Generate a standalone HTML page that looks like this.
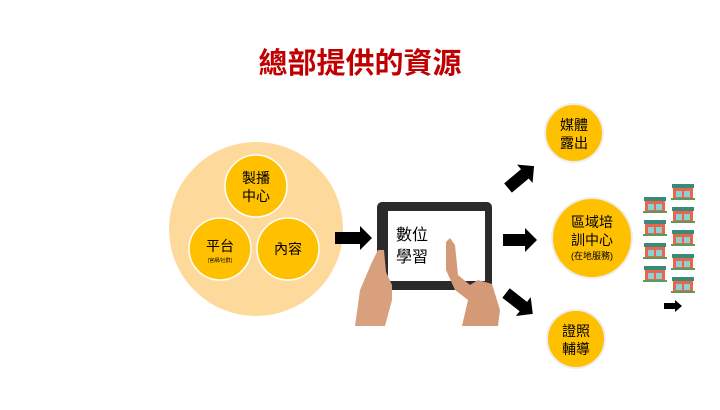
<!DOCTYPE html>
<html><head><meta charset="utf-8"><style>
body{margin:0;width:720px;height:405px;background:#fff;overflow:hidden;font-family:"Liberation Sans","Noto Sans CJK TC",sans-serif;}
</style></head><body>
<svg width="720" height="405" xmlns="http://www.w3.org/2000/svg" font-family="'Liberation Sans','Noto Sans CJK TC',sans-serif">
<text x="360" y="73" text-anchor="middle" font-size="29" font-weight="bold" fill="#C00000">總部提供的資源</text>
<circle cx="256" cy="229" r="87" fill="#FDDA9B"/>
<g fill="#FFC000" stroke="#fff" stroke-width="1.5">
<circle cx="256" cy="186" r="31"/><circle cx="220" cy="249" r="31"/><circle cx="288" cy="249" r="31"/>
</g>
<g font-size="14" fill="#000" text-anchor="middle">
<text x="256" y="183">製播</text><text x="256" y="201">中心</text>
<text x="220" y="251">平台</text><text x="288" y="254">內容</text>
</g>
<text x="220" y="262" font-size="5" text-anchor="middle">(官網/社群)</text>
<polygon points="335,232 360,232 360,226 372,238 360,250 360,244 335,244" fill="#000"/>
<rect x="377" y="202" width="115" height="88" rx="5" fill="#2b2b2b"/>
<rect x="388" y="211" width="97" height="70" fill="#fff"/>
<text x="396" y="240" font-size="16">數位</text><text x="396" y="262" font-size="16">學習</text>
<path d="M355,326 L360,290 L372,262 L378,250 L384,250 L386,272 L392,285 L392,300 L385,326 Z" fill="#D9A07E"/>
<path d="M446,242 L450,238 L455,245 L458,275 L470,285 L478,280 L492,284 L500,310 L498,326 L462,326 L468,300 L455,290 L446,270 Z" fill="#D49A78"/>
<defs><polygon id="ar" points="0,-6 22,-6 22,-12 34,0 22,12 22,6 0,6"/></defs>
<g fill="#000">
<use href="#ar" transform="translate(508,188) rotate(-40)"/>
<use href="#ar" transform="translate(503,240)"/>
<use href="#ar" transform="translate(506,293) rotate(38)"/>
<polygon points="664,303 675,303 675,300 682,306 675,312 675,309 664,309"/>
</g>
<g fill="#FFC000" stroke="#eee" stroke-width="2">
<circle cx="574" cy="133" r="29"/><circle cx="592" cy="238" r="40"/><circle cx="576" cy="339" r="29"/>
</g>
<g font-size="14" fill="#000" text-anchor="middle">
<text x="574" y="130">媒體</text><text x="574" y="148">露出</text>
<text x="592" y="227">區域培</text><text x="592" y="245">訓中心</text>
<text x="576" y="336">證照</text><text x="576" y="354">輔導</text>
</g>
<text x="592" y="259" font-size="9" text-anchor="middle">(在地服務)</text>
<defs><g id="s"><rect x="1" y="0" width="22" height="4" fill="#3a8a7a"/><rect x="2" y="4" width="20" height="10" fill="#E8664A"/><rect x="5" y="7" width="6" height="6" fill="#8ad0d8"/><rect x="13" y="7" width="6" height="6" fill="#8ad0d8"/><rect x="0" y="14" width="24" height="2" fill="#5a9a5a"/></g></defs>
<use href="#s" x="643" y="197"/><use href="#s" x="643" y="220"/><use href="#s" x="643" y="243"/><use href="#s" x="643" y="266"/>
<use href="#s" x="671" y="184"/><use href="#s" x="671" y="207"/><use href="#s" x="671" y="230"/><use href="#s" x="671" y="254"/><use href="#s" x="671" y="277"/>
</svg>
</body></html>
